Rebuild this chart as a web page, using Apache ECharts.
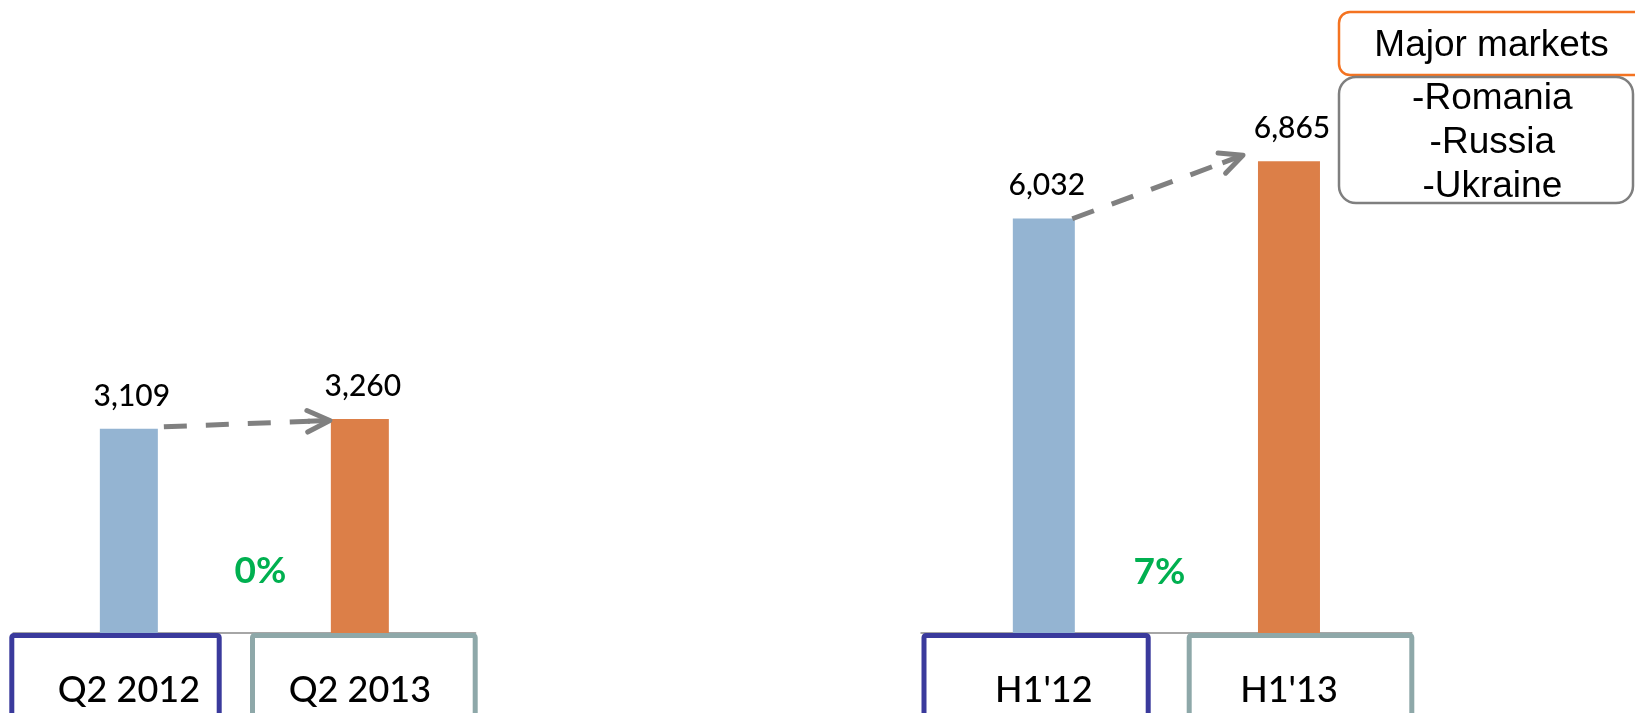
<!DOCTYPE html>
<html><head><meta charset="utf-8">
<script src="https://cdn.jsdelivr.net/npm/echarts@6/dist/echarts.min.js"></script>
<style>html,body{margin:0;padding:0;background:#fff}#c{width:1635px;height:713px}</style>
</head><body><div id="c"></div>
<script>
// ---- data ----
const quarterCategories = ['Q2 2012', 'Q2 2013'];
const quarterValues = [3109, 3260];
const halfCategories = ["H1'12", "H1'13"];
const halfValues = [6032, 6865];
const changeLabels = ['0%', '7%'];
const marketsTitle = 'Major markets';
const marketsList = ['-Romania', '-Russia', '-Ukraine'];

// ---- styles ----
const barColors = ['#94B4D2', '#DC7F48'];
const boxColors = ['#3A3A9C', '#8EA8A9'];
const FONT = 'Lato';

const chart = echarts.init(document.getElementById('c'), null, {renderer: 'canvas'});

function barSeries(values, idx, bw) {
  return {
    type: 'bar', xAxisIndex: idx, yAxisIndex: idx, barWidth: bw,
    data: values.map((v, i) => ({value: v, itemStyle: {color: barColors[i]}})),
    label: {
      show: true, position: 'top', distance: 18, offset: [3, 0],
      fontFamily: FONT, fontWeight: 500, fontSize: 30, color: '#000',
      formatter: p => p.value.toLocaleString('en-US')
    },
    silent: true, animation: false
  };
}
function catAxis(cats, idx) {
  return {
    type: 'category', gridIndex: idx, data: cats,
    axisLine: {show: true, lineStyle: {color: '#A6A6A6', width: 2}},
    axisTick: {show: false},
    axisLabel: {fontFamily: FONT, fontWeight: 500, fontSize: 36, color: '#000', margin: 39}
  };
}
function valAxis(idx, max) {
  return {type: 'value', gridIndex: idx, min: 0, max: max, show: false, splitLine: {show: false}};
}

chart.setOption({
  animation: false,
  backgroundColor: '#fff',
  grid: [
    {left: 13.35, right: 1635 - 475.35, top: 42, bottom: 80},
    {left: 921.25, right: 1635 - 1411.55, top: 42, bottom: 80}
  ],
  xAxis: [catAxis(quarterCategories, 0), catAxis(halfCategories, 1)],
  yAxis: [valAxis(0, 9000), valAxis(1, 8600)],
  series: [barSeries(quarterValues, 0, 58), barSeries(halfValues, 1, 62)]
});

// ---- annotations from axis pixels ----
function arrowEls(p0, p1) {
  const dx = p1[0] - p0[0], dy = p1[1] - p0[1];
  const len = Math.hypot(dx, dy);
  const ux = dx / len, uy = dy / len;
  const ang = Math.atan2(-uy, -ux);
  const a = 25.5 * Math.PI / 180, L = 25;
  const arm1 = [p1[0] + L * Math.cos(ang + a), p1[1] + L * Math.sin(ang + a)];
  const arm2 = [p1[0] + L * Math.cos(ang - a), p1[1] + L * Math.sin(ang - a)];
  const st = {stroke: '#808080', lineWidth: 5, fill: null};
  return [
    {type: 'line', z: 10, shape: {x1: p0[0], y1: p0[1], x2: p1[0] - ux * 20, y2: p1[1] - uy * 20},
     style: Object.assign({lineDash: [23, 19]}, st)},
    {type: 'line', z: 10, shape: {x1: p1[0] - ux * 22, y1: p1[1] - uy * 22, x2: p1[0] - ux * 2, y2: p1[1] - uy * 2},
     style: Object.assign({}, st)},
    {type: 'polyline', z: 10, shape: {points: [arm1, p1, arm2]},
     style: Object.assign({lineCap: 'round', lineJoin: 'round'}, st)}
  ];
}
function barTop(seriesIndex, i, v) {
  return chart.convertToPixel({seriesIndex: seriesIndex}, [i, v]);
}

const els = [];
// left arrow
{
  const b = barTop(0, 0, quarterValues[0]), o = barTop(0, 1, quarterValues[1]);
  els.push(...arrowEls([b[0] + 29 + 6, b[1] - 2], [o[0] - 29 - 1, o[1] + 1.5]));
}
// right arrow
{
  const b = barTop(1, 0, halfValues[0]), o = barTop(1, 1, halfValues[1]);
  els.push(...arrowEls([b[0] + 31 - 2.5, b[1] + 0.3], [o[0] - 31 - 15, o[1] - 6]));
}
// category boxes
const base = chart.convertToPixel({yAxisIndex: 0}, 0);
const boxes = [
  [11.8, 207.4, 0], [252.5, 222.7, 1], [924, 224.2, 0], [1189.2, 222.6, 1]
];
boxes.forEach(bx => {
  els.push({type: 'rect', z: 20, shape: {x: bx[0], y: base + 2.5, width: bx[1], height: 120, r: 2},
    style: {fill: null, stroke: boxColors[bx[2]], lineWidth: 5}});
});
// change labels
[[260.5, 571.5], [1159.5, 572]].forEach((p, i) => {
  els.push({type: 'text', z: 20, x: p[0], y: p[1],
    style: {text: changeLabels[i], fontFamily: FONT, fontWeight: 'bold', fontSize: 37,
            fill: '#00B050', align: 'center', verticalAlign: 'middle'}});
});
// major markets boxes
els.push({type: 'rect', z: 20, shape: {x: 1339, y: 12, width: 320, height: 63, r: 11},
  style: {fill: '#fff', stroke: '#F47321', lineWidth: 2.5}});
els.push({type: 'rect', z: 20, shape: {x: 1339, y: 77, width: 294, height: 126, r: 17},
  style: {fill: '#fff', stroke: '#7F7F7F', lineWidth: 2.5}});
els.push({type: 'text', z: 21, x: 1491.5, y: 46,
  style: {text: marketsTitle, fontFamily: 'Liberation Sans', fontSize: 37, fill: '#000',
          align: 'center', verticalAlign: 'middle'}});
marketsList.forEach((t, i) => {
  els.push({type: 'text', z: 21, x: 1492.3, y: 98.5 + i * 44.3,
    style: {text: t, fontFamily: 'Liberation Sans', fontSize: 37, fill: '#000',
            align: 'center', verticalAlign: 'middle'}});
});

chart.setOption({graphic: {elements: els}});
</script>
</body></html>
